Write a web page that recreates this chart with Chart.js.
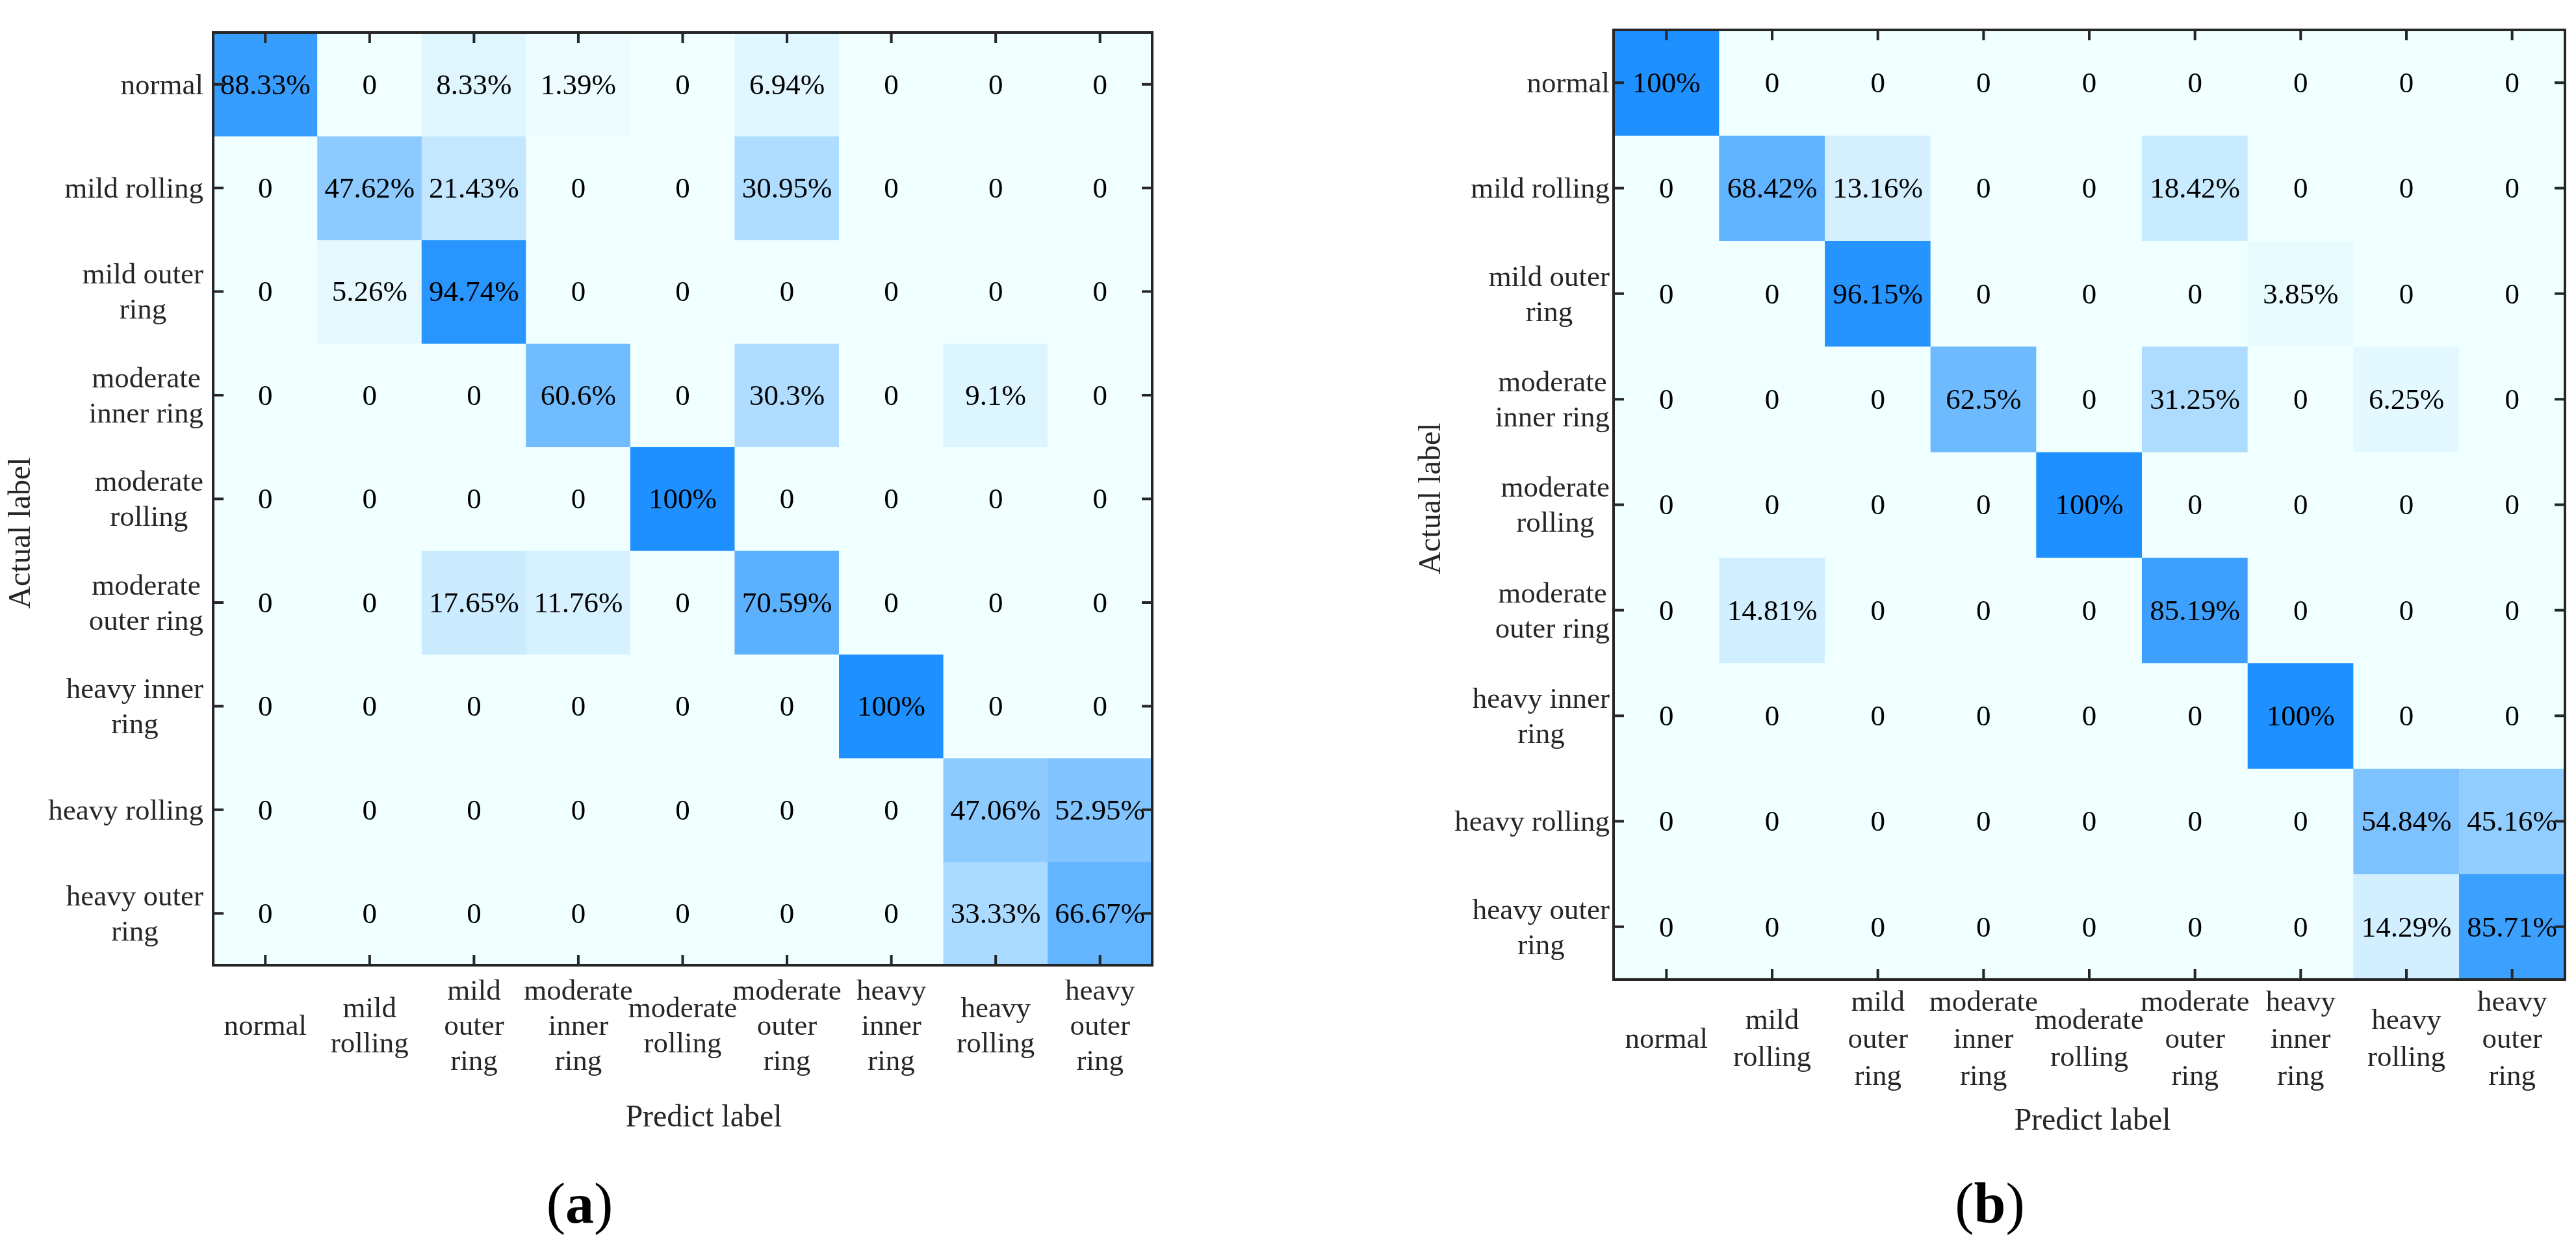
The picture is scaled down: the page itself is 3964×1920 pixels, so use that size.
<!DOCTYPE html>
<html>
<head>
<meta charset="utf-8">
<script src="https://cdn.jsdelivr.net/npm/chart.js@4.4.1/dist/chart.umd.min.js"></script>
<style>
html,body{margin:0;padding:0;background:#fff;}
canvas{position:absolute;top:0;}
#cmA{left:0;}
#cmB{left:1982px;}
</style>
</head>
<body>
<canvas id="cmA" width="1982" height="1920"></canvas>
<canvas id="cmB" width="1982" height="1920"></canvas>
<script>
// predicted classes (columns) and actual classes (rows)
const xTickLabels = [
  ['normal'], ['mild', 'rolling'], ['mild', 'outer', 'ring'], ['moderate', 'inner', 'ring'],
  ['moderate', 'rolling'], ['moderate', 'outer', 'ring'], ['heavy', 'inner', 'ring'],
  ['heavy', 'rolling'], ['heavy', 'outer', 'ring']
];
const yTickLabels = [
  ['normal'], ['mild rolling'], ['mild outer', 'ring'], ['moderate', 'inner ring'],
  ['moderate', 'rolling'], ['moderate', 'outer ring'], ['heavy inner', 'ring'],
  ['heavy rolling'], ['heavy outer', 'ring']
];

// (a) values in percent, one row per actual label
const valuesA = [
  [88.33, 0, 8.33, 1.39, 0, 6.94, 0, 0, 0],
  [0, 47.62, 21.43, 0, 0, 30.95, 0, 0, 0],
  [0, 5.26, 94.74, 0, 0, 0, 0, 0, 0],
  [0, 0, 0, 60.6, 0, 30.3, 0, 9.1, 0],
  [0, 0, 0, 0, 100, 0, 0, 0, 0],
  [0, 0, 17.65, 11.76, 0, 70.59, 0, 0, 0],
  [0, 0, 0, 0, 0, 0, 100, 0, 0],
  [0, 0, 0, 0, 0, 0, 0, 47.06, 52.95],
  [0, 0, 0, 0, 0, 0, 0, 33.33, 66.67]
];
// (b)
const valuesB = [
  [100, 0, 0, 0, 0, 0, 0, 0, 0],
  [0, 68.42, 13.16, 0, 0, 18.42, 0, 0, 0],
  [0, 0, 96.15, 0, 0, 0, 3.85, 0, 0],
  [0, 0, 0, 62.5, 0, 31.25, 0, 6.25, 0],
  [0, 0, 0, 0, 100, 0, 0, 0, 0],
  [0, 14.81, 0, 0, 0, 85.19, 0, 0, 0],
  [0, 0, 0, 0, 0, 0, 100, 0, 0],
  [0, 0, 0, 0, 0, 0, 0, 54.84, 45.16],
  [0, 0, 0, 0, 0, 0, 0, 14.29, 85.71]
];

const SERIF = '"Liberation Serif", "Times New Roman", serif';
const INK = '#262626';
const H = 1920, W = 1982;

function cellColor(v) {
  const t = v / 100;
  const r = Math.round(240 + (30 - 240) * t);
  const g = Math.round(255 + (144 - 255) * t);
  return 'rgb(' + r + ',' + g + ',255)';
}

function fmt(v) {
  return v === 0 ? '0' : v + '%';
}

function drawConfusion(id, values, g) {
  const datasets = values.map((row, r) => ({
    data: row.map(() => [r, r + 1]),
    backgroundColor: row.map(cellColor),
    borderWidth: 0,
    barPercentage: 1,
    categoryPercentage: 1,
    grouped: false
  }));

  const textPlugin = {
    id: 'cmText',
    afterDatasetsDraw(chart) {
      const ctx = chart.ctx, a = chart.chartArea;
      const x = chart.scales.x, y = chart.scales.y;
      ctx.save();
      // numbers in the cells
      ctx.font = '45px ' + SERIF;
      ctx.fillStyle = '#000';
      ctx.textAlign = 'center';
      ctx.textBaseline = 'middle';
      values.forEach((row, r) => {
        chart.getDatasetMeta(r).data.forEach((bar, c) => {
          ctx.fillText(fmt(row[c]), bar.x, (bar.y + bar.base) / 2 + 3);
        });
      });
      // box and inward ticks
      ctx.strokeStyle = INK;
      ctx.lineWidth = 4;
      ctx.strokeRect(a.left, a.top, a.right - a.left, a.bottom - a.top);
      ctx.beginPath();
      x.ticks.forEach((t, i) => {
        const px = x.getPixelForTick(i);
        ctx.moveTo(px, a.top); ctx.lineTo(px, a.top + 16);
        ctx.moveTo(px, a.bottom); ctx.lineTo(px, a.bottom - 16);
      });
      values.forEach((row, r) => {
        const py = y.getPixelForValue(r + 0.5);
        ctx.moveTo(a.left, py); ctx.lineTo(a.left + 16, py);
        ctx.moveTo(a.right, py); ctx.lineTo(a.right - 16, py);
      });
      ctx.stroke();
      // y tick labels: block right aligned, lines centred
      ctx.fillStyle = INK;
      yTickLabels.forEach((lines, r) => {
        const py = y.getPixelForValue(r + 0.5);
        const w = Math.max(...lines.map(l => ctx.measureText(l).width));
        const cx = a.left - g.yGap - w / 2;
        lines.forEach((l, k) => {
          ctx.fillText(l, cx, py + 3 + (k - (lines.length - 1) / 2) * 54);
        });
      });
      // axis titles
      ctx.font = '48px ' + SERIF;
      ctx.fillText('Predict label', g.xTitle[0], g.xTitle[1]);
      ctx.save();
      ctx.translate(g.yTitle[0], g.yTitle[1]);
      ctx.rotate(-Math.PI / 2);
      ctx.fillText('Actual label', 0, 0);
      ctx.restore();
      // caption (a)/(b)
      const fr = '88px ' + SERIF, fb = 'bold 88px ' + SERIF;
      ctx.font = fr; const wp = ctx.measureText('(').width, wq = ctx.measureText(')').width;
      ctx.font = fb; const wl = ctx.measureText(g.cap).width;
      let cx = g.capPos[0] - (wp + wl + wq) / 2;
      ctx.textAlign = 'left';
      ctx.fillStyle = '#000';
      ctx.font = fr; ctx.fillText('(', cx, g.capPos[1]); cx += wp;
      ctx.font = fb; ctx.fillText(g.cap, cx, g.capPos[1]); cx += wl;
      ctx.font = fr; ctx.fillText(')', cx, g.capPos[1]);
      ctx.restore();
    }
  };

  new Chart(document.getElementById(id), {
    type: 'bar',
    data: { labels: xTickLabels, datasets: datasets },
    options: {
      responsive: false,
      animation: false,
      devicePixelRatio: 1,
      layout: { padding: { left: g.left, top: g.top, right: W - g.right, bottom: 0 } },
      plugins: { legend: { display: false }, tooltip: { enabled: false } },
      scales: {
        x: {
          type: 'category',
          offset: true,
          grid: { display: false, drawTicks: false },
          border: { display: false },
          ticks: {
            autoSkip: false, maxRotation: 0, minRotation: 0,
            crossAlign: 'center',
            padding: g.xPad,
            color: INK,
            font: { family: SERIF, size: 45, lineHeight: g.xLine / 45 }
          },
          afterFit(s) { s.height = H - g.bottom; }
        },
        y: { type: 'linear', min: 0, max: 9, reverse: true, display: false }
      }
    },
    plugins: [textPlugin]
  });
}

drawConfusion('cmA', valuesA, {
  left: 328, top: 50, right: 1773, bottom: 1485,
  yGap: 15, xPad: 41, xLine: 54,
  yTitle: [33, 820], xTitle: [1083, 1720], cap: 'a', capPos: [892, 1858]
});
drawConfusion('cmB', valuesB, {
  left: 501, top: 46, right: 1965, bottom: 1507,
  yGap: 6, xPad: 36, xLine: 57,
  yTitle: [221, 767], xTitle: [1238, 1725], cap: 'b', capPos: [1080, 1858]
});
</script>
</body>
</html>
